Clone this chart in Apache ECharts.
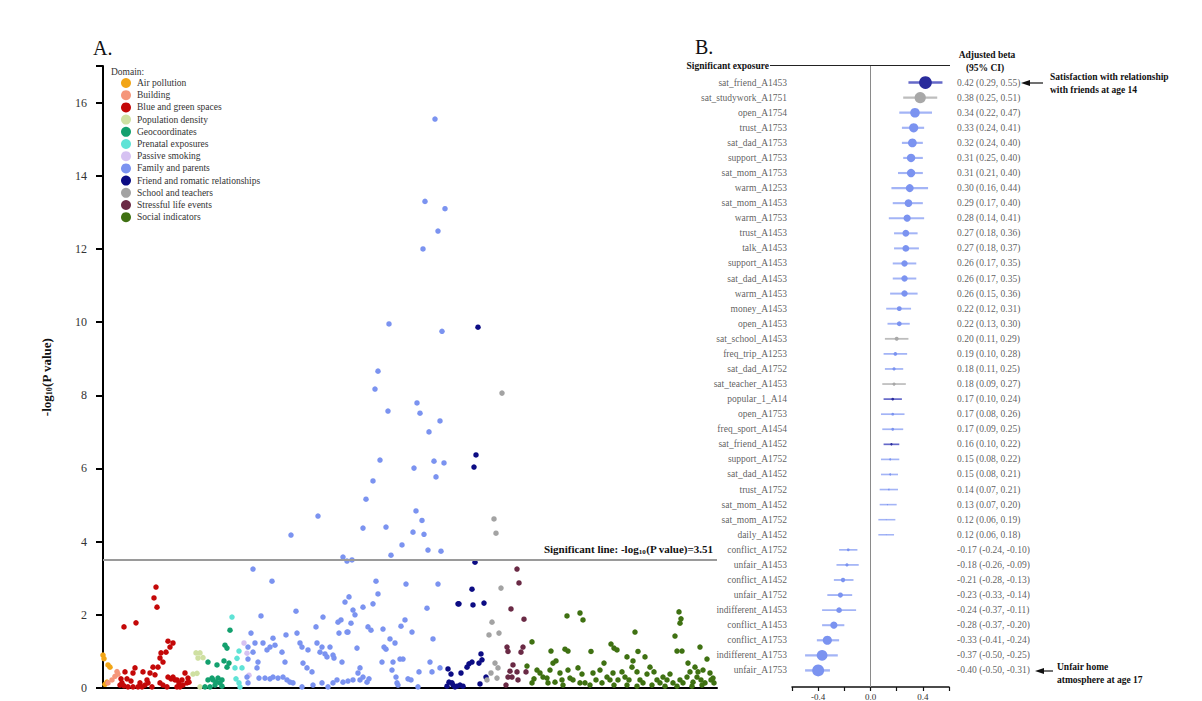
<!DOCTYPE html>
<html><head><meta charset="utf-8">
<script src="https://cdn.jsdelivr.net/npm/echarts@6/dist/echarts.min.js"></script>
<style>html,body{margin:0;padding:0;background:#fff}#c{width:1202px;height:701px}</style>
</head><body><div id="c"></div>
<script>
// ---------- Panel A data: [exposure index, -log10(P)] per domain ----------
const domainNames = ['Air pollution','Building','Blue and green spaces','Population density','Geocoordinates','Prenatal exposures','Passive smoking','Family and parents','Friend and romatic relationships','School and teachers','Stressful life events','Social indicators'];
const airPollution = [[0,0.9],[1,0.8],[2,0.1],[4,0.16],[5,0.63],[7,0.57]];
const building = [[5,0.14],[9,0.22],[12,0.32],[14,0.45],[15,0.38]];
const blueGreen = [[21,1.67],[33,1.78],[53,2.76],[51,2.46],[54,2.21],[65,1.28],[70,1.23],[67,1.12],[58,0.96],[63,0.98],[60,0.71],[50,0.57],[55,0.57],[47,0.41],[32,0.55],[30,0.41],[22,0.44],[18,0.25],[24,0.25],[28,0.19],[19,0.14],[21,0.06],[30,0.03],[37,0.14],[39,0.03],[42,0.08],[45,0.14],[44,0.22],[57,0.14],[60,0.08],[65,0.3],[68,0.25],[70,0.3],[74,0.22],[76,0.14],[79,0.22],[82,0.41],[80,0.08],[84,0.14],[86,0.16],[74,0.03],[77,0.03],[64,0.03],[49,0.03],[35,0.03],[25,0.03],[57,0.82],[40,0.44],[17,0.08],[52,0.36],[72,0.22],[85,0.27]];
const popDensity = [[93,0.96],[97,0.96],[100,0.83],[95,0.82],[90,0.38],[94,0.4],[97,0.03]];
const geocoord = [[127,1.58],[122,1.17],[124,1.09],[121,0.74],[126,0.68],[124,0.57],[114,0.63],[105,0.71],[105,0.22],[110,0.22],[115,0.27],[119,0.22],[102,0.03],[107,0.03],[112,0.08],[117,0.14],[109,0.27],[113,0.16],[119,0.05]];
const prenatal = [[129,1.94],[136,1.01],[134,0.81],[132,0.55],[139,0.55],[133,0.25],[136,0.14],[137,0.03]];
const passiveSmoking = [[141,1.23],[144,0.95],[146,0.35]];
const familyParents = [[332,15.55],[322,13.3],[342,13.1],[335,12.49],[320,12.0],[286,9.95],[339,9.75],[275,8.66],[272,8.17],[285,7.57],[314,7.79],[317,7.51],[337,7.3],[326,7.0],[277,6.23],[311,6.01],[331,6.2],[341,6.15],[333,5.77],[270,5.66],[263,5.16],[215,4.7],[188,4.18],[313,4.84],[319,4.58],[260,4.37],[283,4.4],[310,4.26],[321,4.2],[299,3.91],[325,3.77],[338,3.74],[288,3.63],[240,3.58],[244,3.47],[249,3.5],
[150,3.25],[169,2.92],[158,1.97],[148,1.5],[152,1.23],[160,1.23],[167,1.12],[172,1.17],[164,1.04],[150,0.98],[145,1.12],[170,1.36],[145,0.79],[155,0.71],[154,0.55],[144,0.3],[145,0.14],[156,0.27],[162,0.27],[167,0.25],[170,0.3],[175,0.27],[180,0.3],[184,0.22],[187,0.16],[190,0.14],[179,0.98],[182,0.71],[183,1.45],[193,2.1],[194,1.5],[197,1.23],[199,1.12],[205,1.04],[200,0.68],[204,0.55],[209,0.44],[213,1.67],[214,1.23],[217,0.98],[219,1.12],[220,1.94],[222,0.93],[224,0.85],[227,1.12],[230,0.9],[231,0.82],[235,1.8],[236,1.5],[238,1.86],[239,0.71],[244,1.53],[248,1.77],[245,1.53],[242,2.35],[246,2.49],[250,2.13],[252,2.0],[254,1.09],[255,0.41],[257,0.55],[260,2.21],[265,1.67],[268,1.58],[273,2.92],[275,2.57],[270,2.3],[280,1.61],[281,1.12],[283,1.06],[279,0.71],[287,1.34],[292,1.23],[289,0.49],[293,0.3],[260,0.3],[257,0.22],[264,0.16],[266,0.25],[294,0.14],[250,0.22],[230,0.14],[234,0.22],[240,0.16],[245,0.19],[210,0.08],[219,0.14],[225,0.03],[199,0.03],
[303,2.84],[335,2.84],[324,2.18],[330,1.34],[302,1.86],[298,1.69],[309,1.53],[300,0.79],[297,0.79],[327,0.71],[316,0.44],[329,0.44],[337,0.55],[305,0.25],[308,0.22],[295,0.08],[315,0.03],[290,0.71]];
const friendRomantic = [[375,9.86],[373,6.37],[371,6.04],[372,3.44],[345,0.52],[348,0.38],[346,0.16],[349,0.14],[350,0.08],[354,0.05],[357,0.08],[360,0.05],[358,0.41],[355,2.3],[356,2.3],[370,2.27],[381,2.32],[369,2.7],[366,0.66],[364,0.57],[369,0.71],[378,0.93],[379,0.77],[376,0.68],[383,0.3],[377,0.11],[344,0.05],[352,0.03]];
const schoolTeachers = [[399,8.06],[391,4.62],[393,4.23],[398,2.73],[389,1.8],[396,1.5],[386,1.45],[392,0.68],[395,0.55],[388,0.41],[384,0.22],[394,0.27]];
const stressfulEvents = [[414,3.25],[416,2.87],[408,2.16],[421,1.88],[404,1.12],[405,1.0],[420,1.12],[418,0.98],[410,0.63],[407,0.46],[414,0.44],[405,0.3],[409,0.3],[415,0.22],[403,0.08],[423,0.44]];
const socialIndicators = [[429,1.26],[448,1.01],[464,1.97],[477,2.05],[480,1.86],[462,1.06],[465,1.01],[488,1.0],[508,1.2],[511,1.09],[514,1.04],[532,1.53],[535,1.0],[542,0.85],[524,0.85],[576,2.08],[578,1.89],[577,1.77],[572,1.42],[574,1.01],[579,1.01],[597,1.12],[604,0.79],[585,0.68],[592,0.57],[595,0.44],[600,0.49],[607,0.41],[610,0.27],
[424,0.6],[434,0.49],[437,0.41],[440,0.3],[444,0.27],[450,0.68],[453,0.74],[447,0.49],[457,0.41],[459,0.22],[465,0.49],[467,0.27],[470,0.22],[475,0.55],[479,0.38],[482,0.14],[490,0.41],[493,0.22],[497,0.49],[501,0.68],[504,0.3],[507,0.22],[510,0.41],[515,0.22],[519,0.44],[522,0.3],[526,0.22],[529,0.57],[530,0.74],[534,0.44],[537,0.22],[540,0.14],[544,0.38],[547,0.57],[551,0.44],[554,0.22],[557,0.14],[560,0.3],[564,0.22],[567,0.38],[570,0.14],[577,0.22],[580,0.14],[584,0.3],[587,0.44],[590,0.16],[594,0.3],[598,0.22],[602,0.14],[608,0.22],[611,0.14],
[429,0.14],[431,0.25],[445,0.14],[452,0.16],[460,0.08],[477,0.14],[487,0.08],[499,0.14],[511,0.08],[524,0.08],[534,0.05],[549,0.08],[562,0.05],[574,0.05],[589,0.05],[599,0.08]];
const domainData = [airPollution,building,blueGreen,popDensity,geocoord,prenatal,passiveSmoking,familyParents,friendRomantic,schoolTeachers,stressfulEvents,socialIndicators];
const significantLine = 3.51;
const yTicksA = [0,2,4,6,8,10,12,14,16];

// ---------- Panel B data ----------
const exposures = ['sat_friend_A1453','sat_studywork_A1751','open_A1754','trust_A1753','sat_dad_A1753','support_A1753','sat_mom_A1753','warm_A1253','sat_mom_A1453','warm_A1753','trust_A1453','talk_A1453','support_A1453','sat_dad_A1453','warm_A1453','money_A1453','open_A1453','sat_school_A1453','freq_trip_A1253','sat_dad_A1752','sat_teacher_A1453','popular_1_A14','open_A1753','freq_sport_A1454','sat_friend_A1452','support_A1752','sat_dad_A1452','trust_A1752','sat_mom_A1452','sat_mom_A1752','daily_A1452','conflict_A1752','unfair_A1453','conflict_A1452','unfair_A1752','indifferent_A1453','conflict_A1453','conflict_A1753','indifferent_A1753','unfair_A1753'];
const beta = [0.42,0.38,0.34,0.33,0.32,0.31,0.31,0.30,0.29,0.28,0.27,0.27,0.26,0.26,0.26,0.22,0.22,0.20,0.19,0.18,0.18,0.17,0.17,0.17,0.16,0.15,0.15,0.14,0.13,0.12,0.12,-0.17,-0.18,-0.21,-0.23,-0.24,-0.28,-0.33,-0.37,-0.40];
const ciLow = [0.29,0.25,0.22,0.24,0.24,0.25,0.21,0.16,0.17,0.14,0.18,0.18,0.17,0.17,0.15,0.12,0.13,0.11,0.10,0.11,0.09,0.10,0.08,0.09,0.10,0.08,0.08,0.07,0.07,0.06,0.06,-0.24,-0.26,-0.28,-0.33,-0.37,-0.37,-0.41,-0.50,-0.50];
const ciHigh = [0.55,0.51,0.47,0.41,0.40,0.40,0.40,0.44,0.40,0.41,0.36,0.37,0.35,0.35,0.36,0.31,0.30,0.29,0.28,0.25,0.27,0.24,0.26,0.25,0.22,0.22,0.21,0.21,0.20,0.19,0.18,-0.10,-0.09,-0.13,-0.14,-0.11,-0.20,-0.24,-0.25,-0.31];
// domain index (into domainNames) of each significant exposure
const exposureDomain = [8,9,7,7,7,7,7,7,7,7,7,7,7,7,7,7,7,9,7,7,9,8,7,7,8,7,7,7,7,7,7,7,7,7,7,7,7,7,7,7];
const xTicksB = [-0.6,-0.4,-0.2,0,0.2,0.4,0.6];

// ---------- styles ----------
const domainColors = ['#f2a516','#f5967a','#c40808','#cfe0a2','#13a06e','#5fe3d6','#d6c2f2','#7b93f0','#0c0c84','#a3a3a3','#6a2a45','#3f7112'];
const forestDot = {7:'#7b93f0',8:'#2a2c9c',9:'#a8a8a8'};
const forestLine = {7:'#a3b4f6',8:'#6569c9',9:'#bdbdbd'};
const SERIF = '"Liberation Serif","DejaVu Serif",serif';

const chart = echarts.init(document.getElementById('c'), null, {renderer:'svg'});

const manhattanSeries = domainNames.map((name, k) => ({
  name, type:'scatter', xAxisIndex:0, yAxisIndex:0,
  data: domainData[k], symbolSize:5.5, itemStyle:{color:domainColors[k], opacity:1},
  emphasis:{disabled:true}, z: 3
}));
manhattanSeries[0].markLine = {
  silent:true, symbol:'none', lineStyle:{color:'#9a9a9a', width:2, type:'solid'},
  label:{show:true, position:'insideEndTop', distance:4,
    formatter:'{b|Significant line: -log}{s|10}{b|(P value)=' + significantLine.toFixed(2) + '}',
    rich:{b:{fontFamily:SERIF,fontWeight:'bold',fontSize:11,color:'#111'}, s:{fontFamily:SERIF,fontWeight:'bold',fontSize:7,color:'#111',padding:[6,0,0,0]}}},
  data:[{yAxis:significantLine}]
};

const rows = exposures.map((n,i)=>i);
const sizeOf = b => Math.max(0, (Math.abs(b) - 0.10) * 40);

chart.setOption({
  animation:false,
  textStyle:{fontFamily:SERIF},
  grid:[
    {left:103, top:66, width:614, bottom:13, containLabel:false},
    {left:792, top:66, width:157, bottom:13, containLabel:false}
  ],
  legend:{
    data:domainNames, orient:'vertical', left:116, top:73, icon:'circle',
    itemWidth:10, itemHeight:10, itemGap:2.2, selectedMode:false,
    textStyle:{fontFamily:SERIF, fontSize:9.5, color:'#333', padding:[0,0,0,1]}
  },
  xAxis:[
    {gridIndex:0, type:'value', min:0, max:614, axisLine:{show:true, onZero:false, lineStyle:{color:'#000', width:2}},
      axisTick:{show:false}, axisLabel:{show:false}, splitLine:{show:false}},
    {gridIndex:1, type:'value', min:-0.6, max:0.6, interval:0.2,
      axisLine:{show:true, onZero:false, lineStyle:{color:'#111', width:1.5}},
      axisTick:{show:true, length:4, lineStyle:{color:'#111', width:1.2}},
      axisLabel:{fontSize:9, color:'#333', margin:5,
        formatter:v=>{const r=Math.round(v*10)/10; return (Math.abs(r)===0.4||r===0)? r.toFixed(1):'';}},
      splitLine:{show:false}}
  ],
  yAxis:[
    {gridIndex:0, type:'value', min:0, max:17, interval:2,
      name:'-log{s|10}(P value)', nameLocation:'middle', nameGap:50, nameRotate:90,
      nameTextStyle:{fontFamily:SERIF, fontWeight:'bold', fontSize:13, color:'#111',
        rich:{s:{fontFamily:SERIF, fontWeight:'bold', fontSize:8, color:'#111', padding:[6,0,0,0]}}},
      axisLine:{show:true, lineStyle:{color:'#000', width:2}},
      axisTick:{show:true, length:7, lineStyle:{color:'#000', width:2}},
      axisLabel:{fontSize:12, color:'#333', margin:16, formatter:v=> yTicksA.includes(v)? String(v):''},
      splitLine:{show:false}},
    {gridIndex:1, type:'value', inverse:true, min:-1.1, max:40.1, show:false}
  ],
  graphic:[
    {type:'text', left:93, top:38, style:{text:'A.', font:'20px '+SERIF, fill:'#111'}},
    {type:'text', left:695, top:37, style:{text:'B.', font:'20px '+SERIF, fill:'#111'}},
    {type:'text', left:111, top:67, style:{text:'Domain:', font:'9.5px '+SERIF, fill:'#333'}},
    {type:'text', x:769, y:66, style:{text:'Significant exposure', font:'bold 9.5px '+SERIF, fill:'#111', textAlign:'right', textVerticalAlign:'middle'}},
    {type:'line', shape:{x1:770, y1:65.5, x2:950, y2:65.5}, style:{stroke:'#222', lineWidth:1}},
    {type:'text', x:987, y:55, style:{text:'Adjusted beta', font:'bold 9.5px '+SERIF, fill:'#111', textAlign:'center', textVerticalAlign:'middle'}},
    {type:'text', x:985, y:68, style:{text:'(95% CI)', font:'bold 9.5px '+SERIF, fill:'#111', textAlign:'center', textVerticalAlign:'middle'}},
    {type:'polygon', shape:{points:[[1021,83],[1030,80],[1030,86]]}, style:{fill:'#111'}},
    {type:'line', shape:{x1:1029, y1:83, x2:1043, y2:83}, style:{stroke:'#111', lineWidth:1.2}},
    {type:'text', x:1050, y:77, style:{text:'Satisfaction with relationship', font:'bold 9.5px '+SERIF, fill:'#111', textVerticalAlign:'middle'}},
    {type:'text', x:1050, y:90, style:{text:'with friends at age 14', font:'bold 9.5px '+SERIF, fill:'#111', textVerticalAlign:'middle'}},
    {type:'polygon', shape:{points:[[1035,671],[1044,668],[1044,674]]}, style:{fill:'#111'}},
    {type:'line', shape:{x1:1043, y1:671, x2:1053, y2:671}, style:{stroke:'#111', lineWidth:1.2}},
    {type:'text', x:1057, y:667, style:{text:'Unfair home', font:'bold 9.5px '+SERIF, fill:'#111', textVerticalAlign:'middle'}},
    {type:'text', x:1057, y:680, style:{text:'atmosphere at age 17', font:'bold 9.5px '+SERIF, fill:'#111', textVerticalAlign:'middle'}}
  ],
  series:[
    ...manhattanSeries,
    {type:'custom', xAxisIndex:1, yAxisIndex:1, silent:true, clip:false,
      data: rows.map(i=>[ciLow[i], ciHigh[i], i, exposureDomain[i], beta[i]]),
      renderItem:(params, api)=>{
        const p1 = api.coord([api.value(0), api.value(2)]);
        const p2 = api.coord([api.value(1), api.value(2)]);
        const d = api.value(3), b = Math.abs(api.value(4));
        return {type:'line', shape:{x1:p1[0], y1:p1[1], x2:p2[0], y2:p2[1]},
          style:{stroke:forestLine[d], lineWidth:1.2 + b*3}};
      },
      markLine:{silent:true, symbol:'none', lineStyle:{color:'#8a8a8a', width:1, type:'solid'}, label:{show:false},
        data:[{xAxis:0}]},
      z:2},
    {type:'scatter', xAxisIndex:1, yAxisIndex:1, silent:true, clip:false,
      data: rows.map(i=>[beta[i], i]),
      symbolSize:(v)=>sizeOf(v[0]),
      itemStyle:{color:(p)=>forestDot[exposureDomain[p.dataIndex]], opacity:1}, z:4},
    {type:'scatter', xAxisIndex:1, yAxisIndex:1, silent:true, clip:false,
      data: rows.map(i=>[-0.6, i]), symbolSize:0,
      label:{show:true, position:'left', distance:5, fontFamily:SERIF, fontSize:9.5, color:'#333',
        formatter:(p)=>exposures[p.dataIndex]}},
    {type:'scatter', xAxisIndex:1, yAxisIndex:1, silent:true, clip:false,
      data: rows.map(i=>[0.6, i]), symbolSize:0,
      label:{show:true, position:'right', distance:8, fontFamily:SERIF, fontSize:9.5, color:'#333',
        formatter:(p)=>{const i=p.dataIndex; return beta[i].toFixed(2)+' ('+ciLow[i].toFixed(2)+', '+ciHigh[i].toFixed(2)+')';}}}
  ]
});
</script></body></html>
